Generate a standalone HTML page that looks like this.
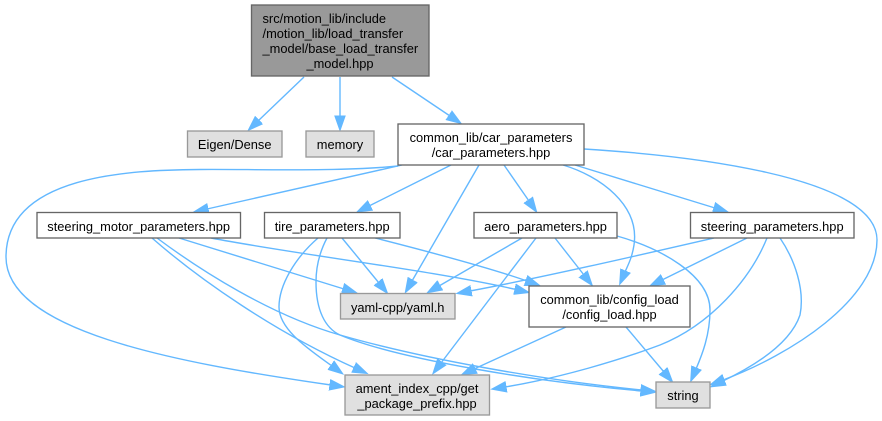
<!DOCTYPE html>
<html><head><meta charset="utf-8"><style>
html,body{margin:0;padding:0;background:#fff;width:882px;height:421px;overflow:hidden}
svg{display:block}
text{font-family:"Liberation Sans",sans-serif;font-size:12.85px;fill:#000}
.e{fill:none;stroke:#63b8ff;stroke-width:1.4;marker-end:url(#a)}
.w{fill:#fff;stroke:#666;stroke-width:1.33}
.g{fill:#e0e0e0;stroke:#999;stroke-width:1.33}
</style></head><body>
<svg width="882" height="421" viewBox="0 0 882 421" xmlns="http://www.w3.org/2000/svg">
<defs><marker id="a" markerUnits="userSpaceOnUse" markerWidth="18" markerHeight="14" viewBox="0 -7 18 14" refX="1.5" refY="0" orient="auto"><path d="M0,-5.3L15,0L0,5.3Z" fill="#63b8ff" stroke="#63b8ff" stroke-width="1"/></marker></defs>

<path class="e" d="M304,77L258,121"/>
<path class="e" d="M340,77L340,117"/>
<path class="e" d="M392,77L450,116"/>
<path class="e" d="M398,166C340,172 250,169 200,169.5C130,170 6,175 6,257C6,330 170,362 331,385"/>
<path class="e" d="M402,165L207,209"/>
<path class="e" d="M451,165L369,206"/>
<path class="e" d="M479,165L412,281"/>
<path class="e" d="M504,165L529,201"/>
<path class="e" d="M563,165C600,176 640,205 634,245C632,258 628,265 625,272"/>
<path class="e" d="M575,165L715,208"/>
<path class="e" d="M584,149C680,155 877,175 877,240C877,300 790,355 723,380"/>

<path class="e" d="M211,238C300,255 430,270 516,289.5"/>
<path class="e" d="M179,238L344,289"/>
<path class="e" d="M152,238C200,280 275,332 355,368"/>
<path class="e" d="M157,238C200,270 270,315 340,335C420,358 540,380 642,390"/>

<path class="e" d="M318,238C295,258 279,285 279,307C279,330 310,350 332,366"/>
<path class="e" d="M327,238C318,255 316,270 316,282C316,310 325,328 340,335C400,360 540,382 642,391"/>
<path class="e" d="M342,238L379,283"/>
<path class="e" d="M375,238C430,252 490,268 527,281"/>

<path class="e" d="M522,238L439,286"/>
<path class="e" d="M536,238L441,363"/>
<path class="e" d="M555,238L584,275"/>
<path class="e" d="M617,236C660,248 710,275 710,310C710,335 702,355 696,369"/>

<path class="e" d="M714,238C640,255 540,278 470,291"/>
<path class="e" d="M747,238L662,280"/>
<path class="e" d="M767,238C750,280 710,325 660,345C620,360 560,378 505,387"/>
<path class="e" d="M780,238C795,260 805,290 800,315C790,345 750,368 723,381"/>

<path class="e" d="M626,327L664,372"/>
<path class="e" d="M566,327L474,369"/>

<rect x="251.5" y="5" width="177.5" height="71" fill="#999" stroke="#666" stroke-width="1.33"/>
<text x="262.5" y="23">src/motion_lib/include</text>
<text x="262.5" y="38">/motion_lib/load_transfer</text>
<text x="262.5" y="53">_model/base_load_transfer</text>
<text x="340" y="68" text-anchor="middle">_model.hpp</text>

<rect class="g" x="187.5" y="131" width="94.5" height="26"/>
<text x="234.7" y="149" text-anchor="middle">Eigen/Dense</text>
<rect class="g" x="306" y="131" width="68" height="26"/>
<text x="340" y="149" text-anchor="middle">memory</text>

<rect class="w" x="398" y="124" width="186" height="41"/>
<text x="491" y="142" text-anchor="middle">common_lib/car_parameters</text>
<text x="491" y="157" text-anchor="middle">/car_parameters.hpp</text>

<rect class="w" x="37" y="212.5" width="203.5" height="25.5"/>
<text x="138.7" y="231" text-anchor="middle">steering_motor_parameters.hpp</text>
<rect class="w" x="264.5" y="212.5" width="135.5" height="25.5"/>
<text x="332.2" y="231" text-anchor="middle">tire_parameters.hpp</text>
<rect class="w" x="474" y="212.5" width="143" height="25.5"/>
<text x="545.5" y="231" text-anchor="middle">aero_parameters.hpp</text>
<rect class="w" x="690.5" y="212.5" width="163.5" height="25.5"/>
<text x="772.2" y="231" text-anchor="middle">steering_parameters.hpp</text>

<rect class="g" x="340.5" y="293.5" width="114.5" height="25.5"/>
<text x="397.7" y="312" text-anchor="middle">yaml-cpp/yaml.h</text>

<rect class="w" x="529" y="286" width="161" height="41"/>
<text x="609.5" y="304" text-anchor="middle">common_lib/config_load</text>
<text x="609.5" y="319" text-anchor="middle">/config_load.hpp</text>

<rect class="g" x="345" y="375" width="144.5" height="40"/>
<text x="417" y="393" text-anchor="middle">ament_index_cpp/get</text>
<text x="417" y="408" text-anchor="middle">_package_prefix.hpp</text>

<rect class="g" x="656" y="382" width="54" height="26"/>
<text x="683" y="400" text-anchor="middle">string</text>
</svg>
</body></html>
